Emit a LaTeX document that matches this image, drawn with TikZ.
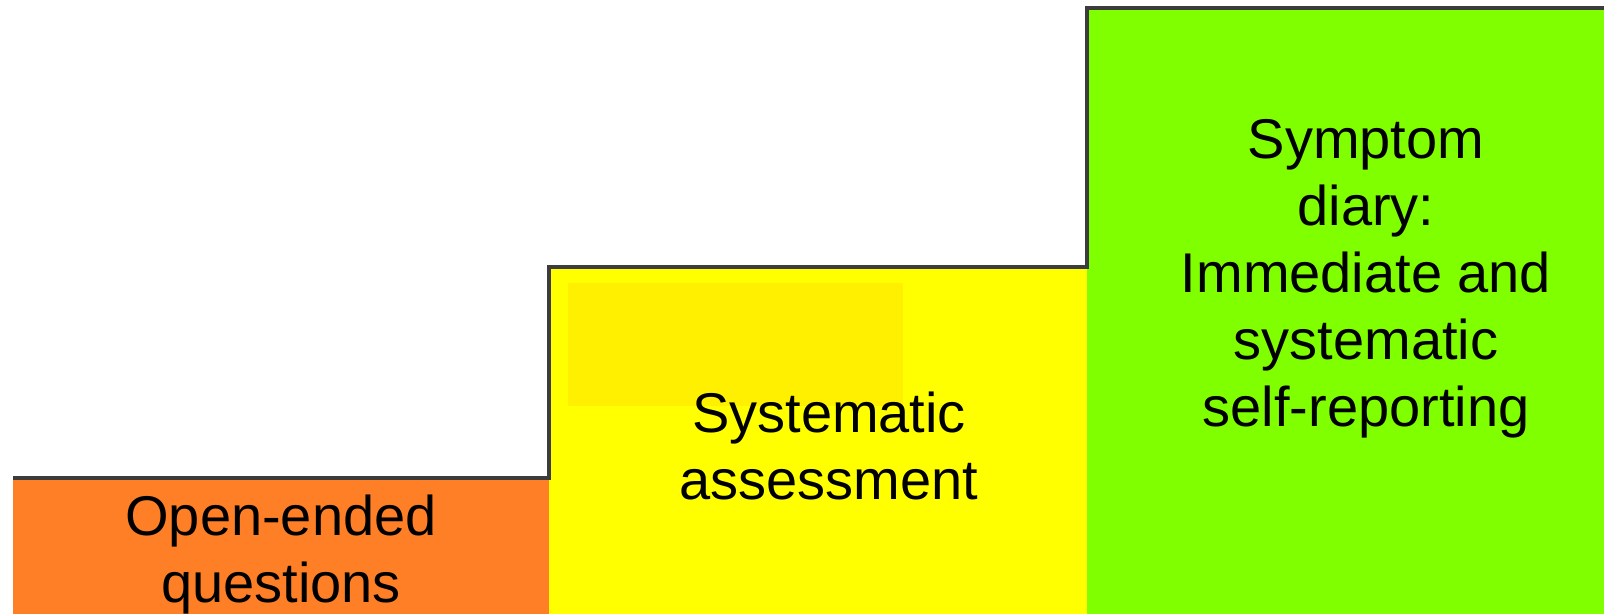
\documentclass[tikz,border=0pt]{standalone}
\usepackage{fontspec}
\setmainfont{Liberation Sans}
\usepackage{tikz}
\usetikzlibrary{positioning}

\definecolor{stairOrange}{RGB}{255,127,39}
\definecolor{stairYellow}{RGB}{255,255,0}
\definecolor{stairGreen}{RGB}{128,255,0}
\definecolor{patchYellow}{RGB}{255,240,0}
\definecolor{stairEdge}{RGB}{60,60,60}

\begin{document}
\begin{tikzpicture}[x=1pt, y=-1pt,
  steptext/.style={align=center, inner sep=0pt, font=\fontsize{56}{67}\selectfont},
  stairline/.style={draw=stairEdge, line width=3.2pt, line join=miter}]
\useasboundingbox (0,0) rectangle (1604,615);
% the three steps
\draw[draw=none, fill=stairOrange] (13,479) rectangle (549,614);
\draw[draw=none, fill=stairYellow] (549,268) rectangle (1087,614);
\draw[draw=none, fill=stairGreen] (1087,8) rectangle (1604,614);
\draw[draw=none, fill=patchYellow] (568,283) rectangle (903,406);
% outline of the stairs
\draw[stairline] (13,478) -- (549,478) -- (549,267) -- (1087,267) -- (1087,8) -- (1604,8);
% texts
\node[steptext] (open) at (281,555) {Open-ended\\questions};
\node[steptext] (assess) at (829,446) {Systematic\\assessment};
\node[steptext] (diary) at (1366,279) {Symptom\\diary:\\Immediate and\\systematic\\self-reporting};
\end{tikzpicture}
\end{document}
